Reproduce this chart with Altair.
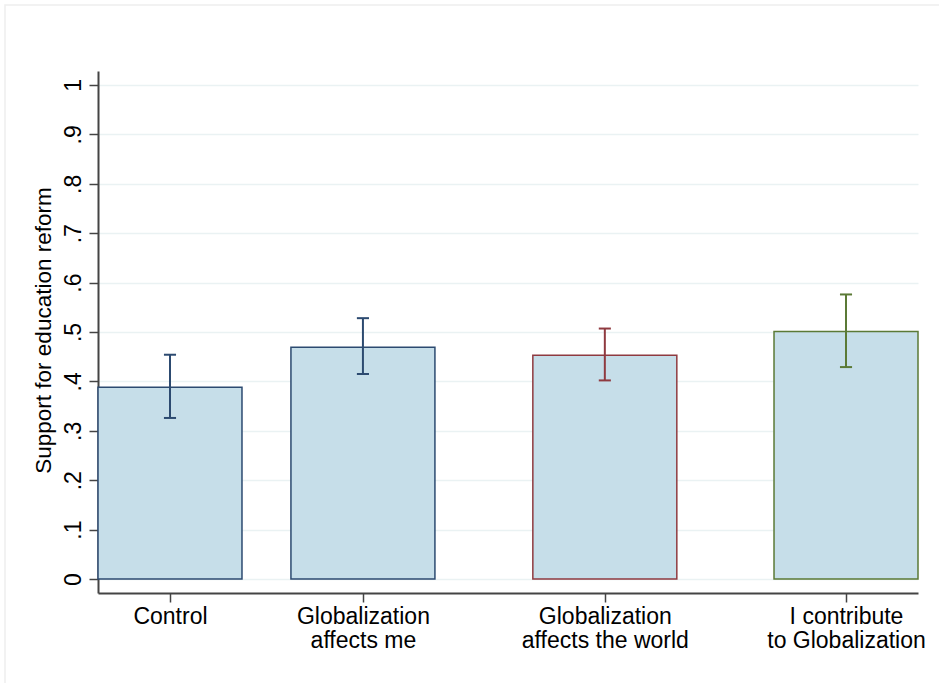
import altair as alt
import pandas as pd

# Treatment groups and their estimates
categories = [
    "Control",
    "Globalization affects me",
    "Globalization affects the world",
    "I contribute to Globalization",
]
label_lines = [
    ["Control"],
    ["Globalization", "affects me"],
    ["Globalization", "affects the world"],
    ["I contribute", "to Globalization"],
]
means = [0.388, 0.469, 0.453, 0.501]
ci_low = [0.326, 0.415, 0.402, 0.429]
ci_high = [0.454, 0.528, 0.507, 0.576]

# Bar centres along the x scale (bar width = 1 unit)
positions = [0.5, 1.84, 3.52, 5.195]
outline_colors = ["#2c4a70", "#2c4a70", "#8f3a40", "#5b7a36"]

y_tick_values = [0, 0.1, 0.2, 0.3, 0.4, 0.5, 0.6, 0.7, 0.8, 0.9, 1]
y_tick_labels = ["0", ".1", ".2", ".3", ".4", ".5", ".6", ".7", ".8", ".9", "1"]

FONT = "Liberation Sans"
AXIS_COLOR = "#444444"

df = pd.DataFrame({
    "group": categories,
    "mean": means,
    "lo": ci_low,
    "hi": ci_high,
    "pos": positions,
})

x_label_expr = (
    "[" + ",".join("[" + ",".join(f"'{s}'" for s in lines) + "]" for lines in label_lines) + "]"
    + "[indexof([" + ",".join(str(p) for p in positions) + "], datum.value)]"
)
y_label_expr = (
    "[" + ",".join(f"'{s}'" for s in y_tick_labels) + "][round(datum.value * 10)]"
)

x_scale = alt.Scale(domain=[0, 5.695], nice=False, zero=False)
y_scale = alt.Scale(domain=[-0.0283, 1.0283], nice=False, zero=False)
color_scale = alt.Scale(domain=categories, range=outline_colors)

x_axis = alt.Axis(
    values=positions,
    labelExpr=x_label_expr,
    title=None,
    grid=False,
    tickSize=9,
    tickWidth=1.5,
    tickColor=AXIS_COLOR,
    domainColor=AXIS_COLOR,
    domainWidth=2,
    labelFont=FONT,
    labelFontSize=23,
    labelColor="#000000",
    labelLineHeight=24,
    labelPadding=3,
    labelBaseline="top",
    labelFlush=False,
    labelOverlap=False,
)
y_axis = alt.Axis(
    values=y_tick_values,
    labelExpr=y_label_expr,
    grid=True,
    gridColor="#eaf2f3",
    gridWidth=1.5,
    tickSize=9,
    tickWidth=1.5,
    tickColor=AXIS_COLOR,
    domainColor=AXIS_COLOR,
    domainWidth=2,
    labelFont=FONT,
    labelFontSize=23,
    labelColor="#000000",
    labelAngle=270,
    labelAlign="center",
    labelBaseline="alphabetic",
    labelPadding=9,
    labelFlush=False,
    labelOverlap=False,
    title="Support for education reform",
    titleFont=FONT,
    titleFontSize=22.5,
    titleFontWeight="normal",
    titleColor="#000000",
    titleAngle=270,
    titleAlign="center",
    titleBaseline="alphabetic",
    titleX=-48,
    titleY=259,
)

base = alt.Chart(df)

# Light border around the whole graph region
frame = base.transform_filter("datum.pos < 1").mark_rect(
    fill=None, stroke="#eeeeee", strokeWidth=1.5
).encode(
    x=alt.value(-93), x2=alt.value(880), y=alt.value(-66), y2=alt.value(640)
)

bars = base.transform_calculate(
    x0="datum.pos - 0.5", x1="datum.pos + 0.5"
).mark_bar(fill="#c6dee9", strokeWidth=1.5).encode(
    x=alt.X("x0:Q", scale=x_scale, axis=x_axis),
    x2="x1:Q",
    y=alt.Y("mean:Q", scale=y_scale, axis=y_axis),
    y2=alt.datum(0),
    stroke=alt.Color("group:N", scale=color_scale, legend=None),
)

stems = base.mark_rule(strokeWidth=2).encode(
    x=alt.X("pos:Q", scale=x_scale, axis=x_axis),
    y=alt.Y("lo:Q", scale=y_scale, axis=y_axis),
    y2="hi:Q",
    color=alt.Color("group:N", scale=color_scale, legend=None),
)

caps = base.transform_fold(
    ["lo", "hi"], as_=["end", "val"]
).transform_calculate(
    c0="datum.pos - 0.042", c1="datum.pos + 0.042"
).mark_rule(strokeWidth=2).encode(
    x=alt.X("c0:Q", scale=x_scale, axis=x_axis),
    x2="c1:Q",
    y=alt.Y("val:Q", scale=y_scale, axis=y_axis),
    color=alt.Color("group:N", scale=color_scale, legend=None),
)

chart = alt.layer(frame, bars, stems, caps).properties(
    width=820,
    height=522,
    autosize=alt.AutoSizeParams(type="none"),
    padding={"left": 98, "top": 71, "right": 21, "bottom": 90},
    background="#ffffff",
).configure_view(stroke=None)

chart.save("out.html", embed_options={"renderer": "svg", "actions": False})
